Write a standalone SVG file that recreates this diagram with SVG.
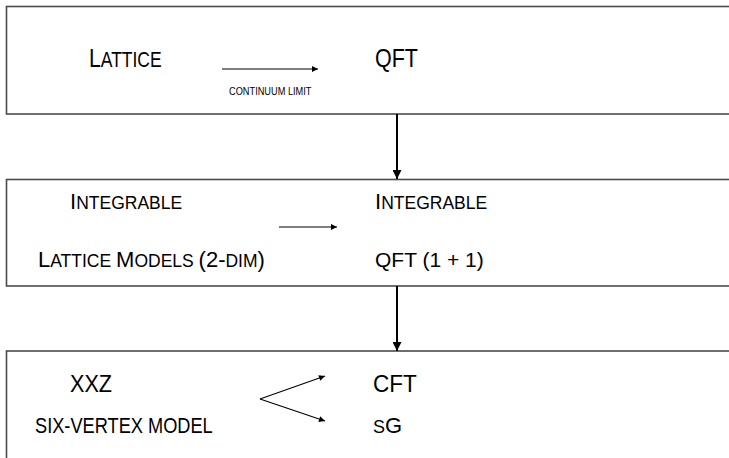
<svg xmlns="http://www.w3.org/2000/svg" width="729" height="458" viewBox="0 0 729 458">
<style>
  .box { fill: #ffffff; stroke: #4a4a4a; stroke-width: 1.6; }
  .t { font-family: "Liberation Sans", Arial, sans-serif; fill: #000; }
  .edge { stroke: #000; stroke-width: 1.1; fill: none; }
  .vedge { stroke: #000; stroke-width: 2; fill: none; }
</style>
<defs>
  <marker id="ah" viewBox="0 0 10 10" refX="10" refY="5" markerWidth="9" markerHeight="6" markerUnits="userSpaceOnUse" orient="auto">
    <path d="M0,0 L10,5 L0,10 z" fill="#000"/>
  </marker>
  <marker id="av" viewBox="0 0 10 10" refX="10" refY="5" markerWidth="11" markerHeight="9" markerUnits="userSpaceOnUse" orient="auto">
    <path d="M0,0 L10,5 L0,10 z" fill="#000"/>
  </marker>
</defs>
<rect width="729" height="458" fill="#ffffff"/>

<g id="box1">
  <rect class="box" x="6.5" y="6.5" width="740" height="107.5"/>
  <text class="t" transform="translate(89 67) scale(0.814 1)"><tspan font-size="26">L</tspan><tspan font-size="21.5">ATTICE</tspan></text>
  <text class="t" transform="translate(375 67) scale(0.827 1)" font-size="26">QFT</text>
  <text class="t" transform="translate(229 95) scale(0.84 1)" font-size="11">CONTINUUM LIMIT</text>
</g>

<g id="box2">
  <rect class="box" x="6.5" y="179.5" width="740" height="106.5"/>
  <text class="t" x="70" y="209"><tspan font-size="22">I</tspan><tspan font-size="17.5">NTEGRABLE</tspan></text>
  <text class="t" x="38" y="267"><tspan font-size="22">L</tspan><tspan font-size="17.5">ATTICE </tspan><tspan font-size="22">M</tspan><tspan font-size="17.5">ODELS </tspan><tspan font-size="22">(2-</tspan><tspan font-size="17.5">DIM</tspan><tspan font-size="22">)</tspan></text>
  <text class="t" x="375" y="209"><tspan font-size="22">I</tspan><tspan font-size="17.5">NTEGRABLE</tspan></text>
  <text class="t" x="375" y="267" font-size="21">QFT (1 + 1)</text>
</g>

<g id="box3">
  <rect class="box" x="6.5" y="351" width="740" height="120"/>
  <text class="t" transform="translate(70 392) scale(0.94 1)" font-size="23">XXZ</text>
  <text class="t" transform="translate(35 433) scale(0.828 1)" font-size="22">SIX-VERTEX MODEL</text>
  <text class="t" transform="translate(373 392) scale(0.98 1)" font-size="23">CFT</text>
  <text class="t" x="373" y="433"><tspan font-size="18">S</tspan><tspan font-size="22">G</tspan></text>
</g>

<g id="connectors">
  <line class="edge" x1="222" y1="69" x2="318" y2="69" marker-end="url(#ah)"/>
  <line class="edge" x1="279" y1="227" x2="337" y2="227" marker-end="url(#ah)"/>
  <line class="edge" x1="260" y1="399" x2="325" y2="376" marker-end="url(#ah)"/>
  <line class="edge" x1="260" y1="399" x2="325" y2="421" marker-end="url(#ah)"/>
  <line class="vedge" x1="397" y1="114" x2="397" y2="179" marker-end="url(#av)"/>
  <line class="vedge" x1="397" y1="286" x2="397" y2="351" marker-end="url(#av)"/>
</g>
</svg>
